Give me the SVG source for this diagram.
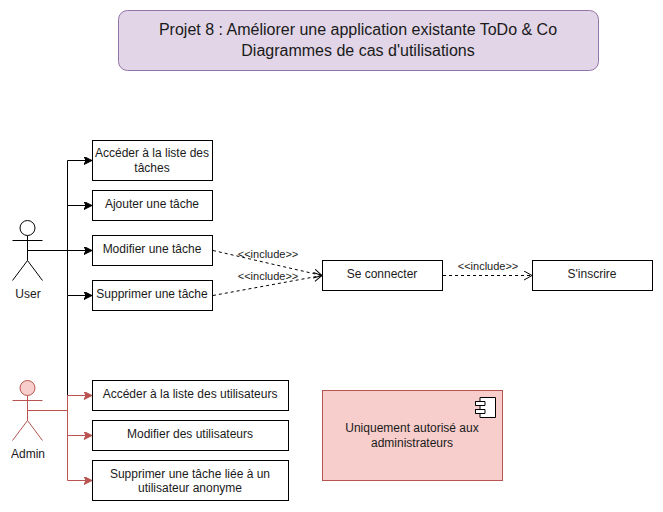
<svg xmlns="http://www.w3.org/2000/svg" width="663" height="512" viewBox="0 0 663 512">
<style>
text{font-family:"Liberation Sans",Arial,sans-serif;font-size:12px;fill:#1a1a1a;text-anchor:middle}
.box{fill:#fff;stroke:#000;stroke-width:1}
.title{font-size:16px}
.lbl{font-size:11px}
.k{fill:none;stroke:#000;stroke-width:1}
.r{fill:none;stroke:#b85450;stroke-width:1}
.d{fill:none;stroke:#000;stroke-width:1;stroke-dasharray:3 3}
</style>
<defs>
<marker id="ak" markerUnits="userSpaceOnUse" markerWidth="10" markerHeight="10" refX="8" refY="4" orient="auto"><path d="M0 0L8 4L0 8L2 4Z" fill="#000" stroke="#000"/></marker>
<marker id="ar" markerUnits="userSpaceOnUse" markerWidth="10" markerHeight="10" refX="8" refY="4" orient="auto"><path d="M0 0L8 4L0 8L2 4Z" fill="#b85450" stroke="#b85450"/></marker>
<marker id="op" markerUnits="userSpaceOnUse" markerWidth="12" markerHeight="12" refX="9" refY="5" orient="auto"><path d="M1 0.5L9 5L1 9.500" fill="none" stroke="#000"/></marker>
</defs>
<g id="title"><rect x="118.500" y="10.500" width="480" height="60" rx="9" fill="#e1d5e7" stroke="#9673a6"/>
<text class="title" x="358" y="35">Projet 8 : Améliorer une application existante ToDo &amp; Co</text>
<text class="title" x="358" y="56">Diagrammes de cas d'utilisations</text></g>
<g id="connectors">
<path class="k" marker-end="url(#ak)" d="M27.500 250.500H67.500V160.500H92"/>
<path class="k" marker-end="url(#ak)" d="M67.500 250.500V205.500H92"/>
<path class="k" marker-end="url(#ak)" d="M27.500 250.500H92"/>
<path class="k" marker-end="url(#ak)" d="M67.500 250.500V295.500H92"/>
<path class="k" d="M67.500 295.500V395.500"/>
<path class="r" marker-end="url(#ar)" d="M27.500 410.500H67.500V395.500H92"/>
<path class="r" marker-end="url(#ar)" d="M67.500 410.500V435.500H92"/>
<path class="r" marker-end="url(#ar)" d="M67.500 410.500V480.500H92"/>
<path class="d" marker-end="url(#op)" d="M213 250.500L322 275.500"/>
<path class="d" marker-end="url(#op)" d="M213 295.500L322 275.500"/>
<path class="d" marker-end="url(#op)" d="M443 275.500H532"/>
<text class="lbl" x="268" y="258">&lt;&lt;include&gt;&gt;</text>
<text class="lbl" x="268" y="280">&lt;&lt;include&gt;&gt;</text>
<text class="lbl" x="488" y="270">&lt;&lt;include&gt;&gt;</text>
</g>
<g id="user"><g class="k"><circle cx="27.500" cy="228" r="7.500"/><path d="M27.500 235.500V260.500M12.500 240.500H42.500M27.500 260.500L12.500 280.500M27.500 260.500L42.500 280.500"/></g><text x="28" y="298">User</text></g>
<g id="admin"><circle cx="27.500" cy="388" r="7.500" fill="#f8cecc" stroke="#b85450"/><path class="r" d="M27.500 395.500V420.500M12.500 400.500H42.500M27.500 420.500L12.500 440.500M27.500 420.500L42.500 440.500"/><text x="28" y="458">Admin</text></g>
<g id="n1"><rect class="box" x="92.500" y="140.500" width="120" height="40"/><text x="152" y="157">Accéder à la liste des</text><text x="152" y="172">tâches</text></g>
<g id="n2"><rect class="box" x="92.500" y="190.500" width="120" height="30"/><text x="152" y="208">Ajouter une tâche</text></g>
<g id="n3"><rect class="box" x="92.500" y="235.500" width="120" height="30"/><text x="152" y="253">Modifier une tâche</text></g>
<g id="n4"><rect class="box" x="92.500" y="280.500" width="120" height="30"/><text x="152" y="298">Supprimer une tâche</text></g>
<g id="n5"><rect class="box" x="322.500" y="260.500" width="120" height="30"/><text x="382" y="278">Se connecter</text></g>
<g id="n6"><rect class="box" x="532.500" y="260.500" width="120" height="30"/><text x="592" y="278">S'inscrire</text></g>
<g id="n7"><rect class="box" x="92.500" y="380.500" width="196" height="30"/><text x="190" y="398">Accéder à la liste des utilisateurs</text></g>
<g id="n8"><rect class="box" x="92.500" y="420.500" width="196" height="30"/><text x="190" y="438">Modifier des utilisateurs</text></g>
<g id="n9"><rect class="box" x="92.500" y="460.500" width="196" height="40"/><text x="190" y="478">Supprimer une tâche liée à un</text><text x="190" y="492">utilisateur anonyme</text></g>
<g id="note"><rect x="322.500" y="390.500" width="180" height="90" fill="#f8cecc" stroke="#b85450"/>
<path class="box" d="M480 397.500H495.500V417.500H480V413.500H475.500V409.500H480V405.500H475.500V401.500H480Z"/>
<path class="k" d="M475.500 401.500H485V405.500H475.500M475.500 409.500H485V413.500H475.500"/>
<text x="412" y="432">Uniquement autorisé aux</text><text x="412" y="447">administrateurs</text></g>
</svg>
